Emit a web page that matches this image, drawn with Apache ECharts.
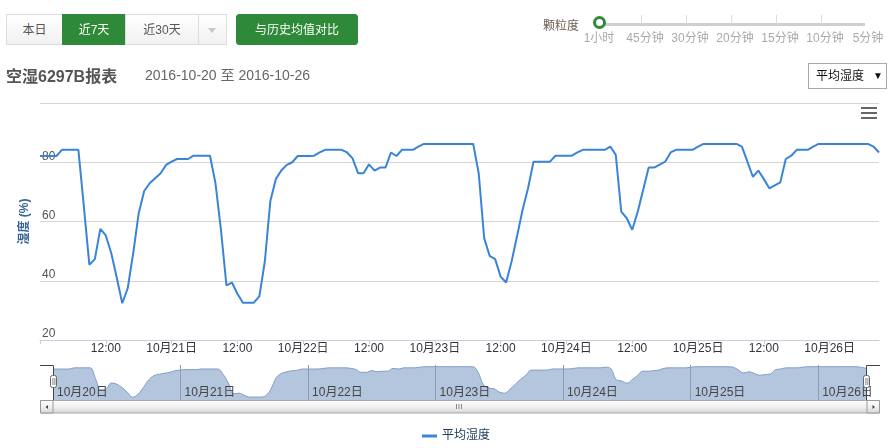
<!DOCTYPE html>
<html><head><meta charset="utf-8">
<script src="https://cdn.jsdelivr.net/npm/echarts@6/dist/echarts.min.js"></script>
<style>
html,body{margin:0;padding:0;background:#fff;width:890px;height:448px;overflow:hidden;font-family:"Liberation Sans","Noto Sans CJK SC",sans-serif;}
#chart{position:absolute;left:0;top:0;width:890px;height:448px;}
.ui{position:absolute;z-index:2;white-space:nowrap;}
.btn{position:absolute;top:14px;height:31px;line-height:30px;text-align:center;font-size:12px;color:#555;box-sizing:border-box;border:1px solid #ddd;background:linear-gradient(#ffffff,#f1f1f1);}
.green{background:#2e8938;color:#fff;border-color:#2e8938;}
.tick{position:absolute;top:15px;width:1px;height:9px;background:#ddd;}
.glab{position:absolute;top:28px;font-size:12px;color:#aaa;transform:translateX(-50%);}
</style></head>
<body>
<div id="chart"></div>
<!-- top controls -->
<div class="ui btn" style="left:6px;width:57px;">本日</div>
<div class="ui btn green" style="left:62px;width:64px;">近7天</div>
<div class="ui btn" style="left:125px;width:74px;">近30天</div>
<div class="ui btn" style="left:198px;width:29px;"><span style="position:absolute;left:9px;top:13px;width:0;height:0;border-left:4px solid transparent;border-right:4px solid transparent;border-top:5px solid #c8c8c8;"></span></div>
<div class="ui btn green" style="left:236px;width:122px;border-radius:3px;">与历史均值对比</div>

<div class="ui" style="left:543px;top:16px;font-size:12px;color:#6f6253;">颗粒度</div>
<div class="ui" style="left:600px;top:23px;width:265px;height:3px;background:#cfcfcf;"></div>
<div class="ui tick" style="left:641px;"></div>
<div class="ui tick" style="left:686px;"></div>
<div class="ui tick" style="left:731px;"></div>
<div class="ui tick" style="left:776px;"></div>
<div class="ui tick" style="left:821px;"></div>
<div class="ui" style="left:593px;top:16px;width:7px;height:7px;border:3px solid #2e8938;border-radius:50%;background:#fff;"></div>
<div class="ui glab" style="left:599px;">1小时</div>
<div class="ui glab" style="left:645px;">45分钟</div>
<div class="ui glab" style="left:690px;">30分钟</div>
<div class="ui glab" style="left:735px;">20分钟</div>
<div class="ui glab" style="left:780px;">15分钟</div>
<div class="ui glab" style="left:825px;">10分钟</div>
<div class="ui glab" style="left:868px;">5分钟</div>

<div class="ui" style="left:6px;top:63px;font-size:16px;font-weight:bold;color:#555;">空湿6297B报表</div>
<div class="ui" style="left:145px;top:64px;font-size:14px;color:#666;">2016-10-20 至 2016-10-26</div>
<div class="ui" style="left:808px;top:63px;width:79px;height:26px;box-sizing:border-box;border:1px solid #aaa;font-size:12px;color:#111;line-height:24px;padding-left:7px;">平均湿度<span style="position:absolute;left:64px;font-size:10px;">▼</span></div>

<script>
// ---- data ----
const startDay = 20;
const hourCount = 154;
const categories = [];
for (let i = 0; i < hourCount; i++) {
  const d = startDay + Math.floor(i / 24), h = i % 24;
  categories.push('2016-10-' + d + ' ' + String(h).padStart(2, '0') + ':00');
}
const humidity = [
  82.1, 82.1, 82.1, 82.1, 84.2, 84.2, 84.2, 84.2, 65.0, 45.4,
  47.3, 57.5, 55.3, 49.3, 41.0, 32.4, 37.5, 49.3, 62.8, 70.3,
  72.9, 74.6, 76.3, 79.1, 80.2, 81.1, 81.1, 81.1, 82.2, 82.2,
  82.2, 82.2, 72.9, 57.2, 38.4, 39.4, 35.6, 32.6, 32.6, 32.6,
  34.7, 46.5, 66.8, 74.3, 77.2, 79.1, 80.0, 82.1, 82.1, 82.1,
  82.2, 83.3, 84.2, 84.2, 84.2, 84.2, 83.3, 81.3, 76.3, 76.3,
  79.3, 77.2, 78.2, 78.2, 83.3, 82.1, 84.2, 84.2, 84.2, 85.3,
  86.2, 86.2, 86.2, 86.2, 86.2, 86.2, 86.2, 86.2, 86.2, 86.2,
  76.3, 54.4, 48.4, 47.3, 41.4, 39.4, 46.5, 55.1, 63.9, 71.2,
  80.2, 80.2, 80.2, 80.2, 82.2, 82.2, 82.2, 82.2, 83.3, 84.2,
  84.2, 84.2, 84.2, 84.2, 85.3, 82.5, 63.3, 61.1, 57.2, 63.3,
  70.7, 78.2, 78.2, 79.2, 80.2, 83.3, 84.2, 84.2, 84.2, 84.2,
  85.3, 86.2, 86.2, 86.2, 86.2, 86.2, 86.2, 86.2, 85.3, 80.2,
  75.1, 77.2, 74.3, 71.2, 72.2, 73.2, 81.1, 82.2, 84.2, 84.2,
  84.2, 85.3, 86.2, 86.2, 86.2, 86.2, 86.2, 86.2, 86.2, 86.2,
  86.2, 86.2, 85.3, 83.3
];
const yMin = 20, yMax = 100, yStep = 20;
const seriesName = '平均湿度';
const yName = '湿度 (%)';

// ---- chart ----
const FONT = '"Liberation Sans","Noto Sans CJK SC",sans-serif';
const dayLabel = v => (+v.slice(5, 7)) + '月' + (+v.slice(8, 10)) + '日';
const chart = echarts.init(document.getElementById('chart'), null, {renderer: 'canvas'});
const grad = new echarts.graphic.LinearGradient(0, 0, 0, 1, [
  {offset: 0, color: '#ffffff'}, {offset: 0.5, color: '#f1f1f1'}, {offset: 1, color: '#d4d4d4'}]);
const option = {
  animation: false,
  textStyle: {fontFamily: FONT},
  grid: [
    {left: 40, right: 11, top: 103, height: 237, outerBoundsMode: 'none', containLabel: false},
    {left: 53, right: 24, top: 365, height: 35, outerBoundsMode: 'none', containLabel: false}
  ],
  legend: {
    data: [{name: seriesName, icon: 'rect'}],
    left: 417, top: 425, itemWidth: 15, itemHeight: 3,
    textStyle: {color: '#23405f', fontSize: 12, fontFamily: FONT}
  },
  xAxis: [
    {
      type: 'category', gridIndex: 0, data: categories, boundaryGap: false,
      axisLine: {lineStyle: {color: '#c2d0e2'}},
      axisTick: {interval: i => i % 12 === 0, length: 4, lineStyle: {color: '#c2d0e2'}},
      axisLabel: {
        interval: i => i > 0 && i % 12 === 0, margin: 3, color: '#333', fontSize: 12,
        formatter: v => v.endsWith('00:00') ? dayLabel(v) : v.slice(11)
      },
      splitLine: {show: false}
    },
    {
      type: 'category', gridIndex: 1, data: categories, boundaryGap: false, z: 5,
      axisLine: {show: false}, axisTick: {show: false},
      axisLabel: {
        inside: true, interval: i => i % 24 === 0, formatter: dayLabel,
        align: 'left', padding: [0, 0, 0, 4], margin: 1, verticalAlign: 'bottom',
        color: '#444', fontSize: 12
      },
      splitLine: {show: true, interval: i => i > 0 && i % 24 === 0, lineStyle: {color: '#8e9cb2', width: 1}}
    }
  ],
  yAxis: [
    {
      type: 'value', gridIndex: 0, min: yMin, max: yMax, interval: yStep,
      name: yName, nameLocation: 'middle', nameGap: 8, nameRotate: 90,
      nameTextStyle: {color: '#3b6596', fontSize: 12, fontWeight: 'bold'},
      axisLine: {show: false}, axisTick: {show: false},
      axisLabel: {inside: true, margin: 2, verticalAlign: 'bottom', color: '#555', fontSize: 12, showMaxLabel: false},
      splitLine: {lineStyle: {color: '#d5d5d5'}}
    },
    {
      type: 'value', gridIndex: 1, min: v => v.min - 5, max: v => v.max + 3,
      show: false, splitLine: {show: false}
    }
  ],
  series: [
    {
      name: seriesName, type: 'line', xAxisIndex: 0, yAxisIndex: 0, data: humidity,
      symbol: 'none', lineStyle: {width: 2, color: '#3a84d8'}, itemStyle: {color: '#3a84d8'}, z: 3
    },
    {
      name: 'shadow', type: 'line', xAxisIndex: 1, yAxisIndex: 1, data: humidity,
      symbol: 'none', smooth: 0.4, silent: true,
      lineStyle: {width: 1, color: '#7f9dc6'}, areaStyle: {color: '#b4c6de', opacity: 1}
    }
  ],
  graphic: [
    // toolbox menu icon
    {type: 'rect', shape: {x: 861, y: 107, width: 16, height: 2}, style: {fill: '#666'}},
    {type: 'rect', shape: {x: 861, y: 112, width: 16, height: 2}, style: {fill: '#666'}},
    {type: 'rect', shape: {x: 861, y: 117, width: 16, height: 2}, style: {fill: '#666'}},
    // scrollbar
    {type: 'rect', shape: {x: 40.5, y: 400.5, width: 839, height: 12.5}, style: {fill: grad, stroke: '#a9a9a9'}, z: 10},
    {type: 'rect', shape: {x: 40.5, y: 400.5, width: 12.5, height: 12.5}, style: {fill: grad, stroke: '#999'}, z: 11},
    {type: 'rect', shape: {x: 867, y: 400.5, width: 12.5, height: 12.5}, style: {fill: grad, stroke: '#999'}, z: 11},
    {type: 'polygon', shape: {points: [[45.5, 407], [48, 405], [48, 409]]}, style: {fill: '#444'}, z: 12},
    {type: 'polygon', shape: {points: [[875, 407], [872.5, 405], [872.5, 409]]}, style: {fill: '#444'}, z: 12},
    {type: 'rect', shape: {x: 456, y: 404, width: 1, height: 5}, style: {fill: '#888'}, z: 12},
    {type: 'rect', shape: {x: 458.5, y: 404, width: 1, height: 5}, style: {fill: '#888'}, z: 12},
    {type: 'rect', shape: {x: 461, y: 404, width: 1, height: 5}, style: {fill: '#888'}, z: 12},
    // data zoom brackets
    {type: 'polyline', shape: {points: [[40, 365.5], [53.5, 365.5], [53.5, 400]]}, style: {stroke: '#444', lineWidth: 1, fill: null}, z: 12},
    {type: 'polyline', shape: {points: [[880, 365.5], [866.5, 365.5], [866.5, 400]]}, style: {stroke: '#444', lineWidth: 1, fill: null}, z: 12},
    {type: 'rect', shape: {x: 50.5, y: 375.5, width: 6, height: 12, r: 2}, style: {fill: '#fff', stroke: '#666'}, z: 13},
    {type: 'rect', shape: {x: 863.5, y: 375.5, width: 6, height: 12, r: 2}, style: {fill: '#fff', stroke: '#666'}, z: 13},
    {type: 'rect', shape: {x: 52.5, y: 378, width: 0.8, height: 7}, style: {fill: '#666'}, z: 14},
    {type: 'rect', shape: {x: 54.5, y: 378, width: 0.8, height: 7}, style: {fill: '#666'}, z: 14},
    {type: 'rect', shape: {x: 865.5, y: 378, width: 0.8, height: 7}, style: {fill: '#666'}, z: 14},
    {type: 'rect', shape: {x: 867.5, y: 378, width: 0.8, height: 7}, style: {fill: '#666'}, z: 14}
  ]
};
chart.setOption(option);
</script>
</body></html>
